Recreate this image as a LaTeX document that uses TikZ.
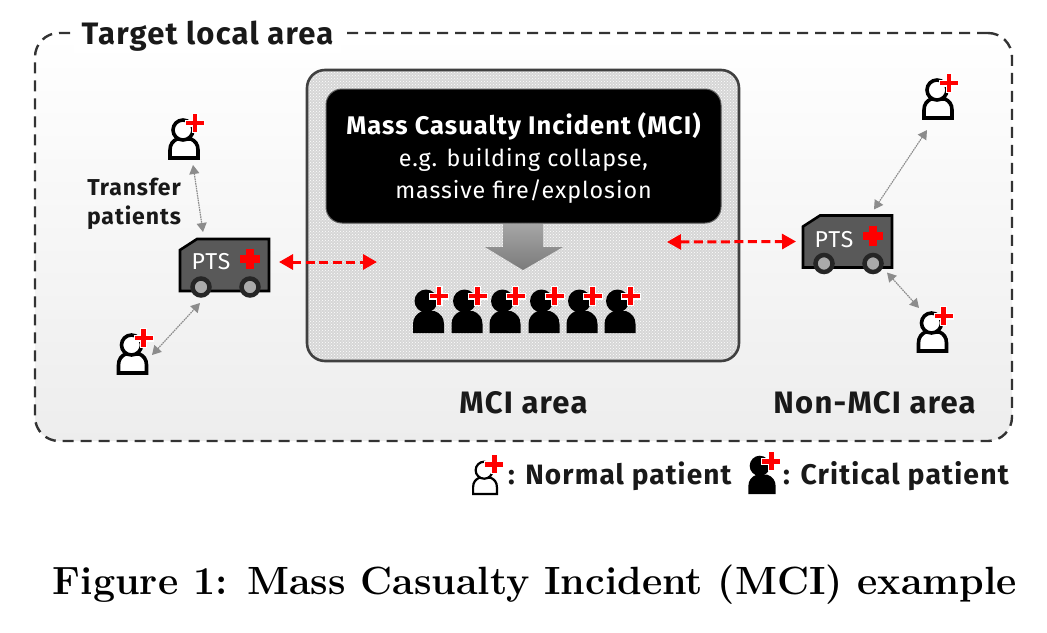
\documentclass[tikz,border=0pt]{standalone}
\usepackage{fontspec}
\newfontfamily\slidefont{Fira Sans}[LetterSpace=4]
\usetikzlibrary{arrows.meta,patterns,positioning}
\definecolor{vangray}{HTML}{595959}
\definecolor{wheelgray}{HTML}{AAAAAA}
\definecolor{mcigray}{HTML}{D6D6D6}
\definecolor{linkgray}{HTML}{8C8C8C}
\tikzset{
  areabox/.style={draw=black!80,line width=2.4pt,dash pattern=on 11pt off 7pt,rounded corners=24pt,
    minimum width=977pt,minimum height=408pt,top color=white,bottom color=black!7},
  mcibox/.style={draw=black!75,line width=2.6pt,rounded corners=18pt,minimum width=432pt,minimum height=291pt,
    preaction={fill=mcigray},pattern=crosshatch dots,pattern color=white},
  blackbox/.style={fill=black,draw=black!65,line width=1pt,rounded corners=16pt,minimum width=395pt,minimum height=134pt},
  blacktext/.style={text=white,align=center,inner sep=0pt,font=\slidefont\fontsize{23.3}{32}\selectfont},
  boldtext/.style={font=\slidefont\bfseries\fontsize{31}{34}\selectfont,text=black!90,inner sep=0pt},
  legendtext/.style={font=\slidefont\bfseries\fontsize{#1}{32}\selectfont,text=black!90,inner sep=0pt,anchor=west},
  smallbold/.style={font=\slidefont\bfseries\fontsize{23}{29}\selectfont,text=black!90,align=center,inner sep=0pt},
  iconbox/.style={minimum width=32pt,minimum height=46pt,inner sep=0pt,outer sep=0pt},
  vanbox/.style={minimum width=90pt,minimum height=52pt,inner sep=0pt,outer sep=0pt},
  vantext/.style={font=\slidefont\fontsize{23}{24}\selectfont,text=white,inner sep=0pt},
  redlink/.style={{Triangle[length=14pt,width=15pt]}-{Triangle[length=14pt,width=15pt]},red,line width=3pt,dash pattern=on 9pt off 4.5pt},
  graylink/.style={{Triangle[length=9pt,width=10pt]}-{Triangle[length=9pt,width=10pt]},linkgray,line width=1.2pt,dash pattern=on 1.6pt off .8pt},
  pics/redcross/.style={code={
    \draw[white,line width=7pt] (-10,0) -- (10,0) (0,-10) -- (0,10);
    \draw[red,line width=4.6pt] (-9,0) -- (9,0) (0,-9) -- (0,9);
  }},
  pics/normalpat/.style={code={
    \draw[black,line width=#1,fill=white] (-14,0) -- (-14,-8) .. controls (-14,-14) and (-11,-17) .. (-7,-19)
      -- (7,-19) .. controls (11,-17) and (14,-14) .. (14,-8) -- (14,0) -- cycle;
    \draw[black,line width=#1,fill=white] (-1,-28) circle (10);
    \pic at (11,-35) {redcross};
  }},
  pics/criticalpat/.style={code={
    \fill[black] (-15.5,0) -- (-15.5,-9) .. controls (-15.5,-15) and (-12,-20) .. (-6,-22)
      -- (6,-22) .. controls (12,-20) and (15.5,-15) .. (15.5,-9) -- (15.5,0) -- cycle;
    \fill[black] (-2.5,-32) circle (11.5);
    \pic at (10.5,-37) {redcross};
  }},
  pics/ptsvan/.style={code={
    \draw[black,line width=2.6pt,fill=vangray,line join=miter] (-45,26) -- (-45,-15) -- (-28,-26) -- (44,-26) -- (44,26) -- cycle;
    \draw[black!85,line width=4.5pt,fill=wheelgray] (-24,22) circle (8.5);
    \draw[black!85,line width=4.5pt,fill=wheelgray] (25,22) circle (8.5);
    \draw[red,line width=8pt] (15,-6) -- (35,-6) (25,-16) -- (25,4);
  }},
}
\begin{document}
\begin{tikzpicture}[x=1pt,y=-1pt]
  \useasboundingbox (0,0) rectangle (1047,632);
  % target area and its title
  \node[areabox] (targetArea) at (523.5,237) {};
  \node[boldtext,fill=white,inner xsep=8pt,inner ysep=2pt] (targetTitle) at (207.5,36) {Target local area};
  % MCI site
  \node[mcibox] (mciArea) at (523,215.5) {};
  \node[blackbox] (mciInfo) at (523.5,156) {};
  \node[blacktext] (mciInfoText) at (523.5,158) {{\bfseries\fontsize{25.5}{32}\selectfont Mass Casualty Incident (MCI)}\\e.g. building collapse,\\massive fire/explosion};
  \shade[top color=black!35,bottom color=black!52] (503,224) -- (543,224) -- (543,247) -- (563,247) -- (523,270) -- (485,247) -- (503,247) -- cycle;
  \pic at (428.5,333) {criticalpat};
  \pic at (467,333) {criticalpat};
  \pic at (505,333) {criticalpat};
  \pic at (544,333) {criticalpat};
  \pic at (582,333) {criticalpat};
  \pic at (620,333) {criticalpat};
  \coordinate (mciLeft) at (377,262);
  \coordinate (mciRight) at (667,242);
  % left side
  \node[iconbox] (patA) at (184,137) {};
  \node[iconbox] (patB) at (132.5,352) {};
  \pic at (184,158) {normalpat=3.6pt};
  \pic at (132.5,373) {normalpat=3.6pt};
  \node[vanbox] (ptsL) at (225,265) {};
  \pic at (225,265) {ptsvan};
  \node[vantext] (ptsLtext) at (211,262) {PTS};
  \node[smallbold] (transferText) at (134,204) {Transfer\\patients};
  % right side
  \node[iconbox] (patC) at (938,97) {};
  \node[iconbox] (patD) at (932.5,330) {};
  \pic at (938,118) {normalpat=3.6pt};
  \pic at (932.5,351) {normalpat=3.6pt};
  \node[vanbox] (ptsR) at (848,241.5) {};
  \pic at (848,241.5) {ptsvan};
  \node[vantext] (ptsRtext) at (834,239.5) {PTS};
  % links
  \draw[graylink] ([shift={(9,5)}]patA.south) -- ([shift={(-22,-7)}]ptsL.north);
  \draw[graylink] ([shift={(3.5,3)}]patB.east) -- ([shift={(-25,12)}]ptsL.south);
  \draw[graylink] ([shift={(-11,10)}]patC.south) -- ([shift={(26,-6)}]ptsR.north);
  \draw[graylink] ([shift={(-13.5,1)}]patD.north) -- ([shift={(39,5)}]ptsR.south);
  \draw[redlink] ([shift={(9,-3)}]ptsL.east) -- (mciLeft);
  \draw[redlink] (mciRight) -- ([shift={(-7,0)}]ptsR.west);
  % area names and legend
  \node[boldtext] (mciName) at (523.5,403) {MCI area};
  \node[boldtext] (nonMciName) at (874.5,403) {Non-MCI area};
  \pic[scale=.85] at (485,494) {normalpat=2.2pt};
  \node[legendtext=28] (normalText) at (508,476) {: Normal patient};
  \pic[scale=.88] at (762,494) {criticalpat};
  \node[legendtext=28.4] (criticalText) at (783,476) {: Critical patient};
  % caption
  \node[font=\bfseries\fontsize{39.4}{44}\selectfont,inner sep=0pt] (figCaption) at (535,585) {Figure 1: Mass Casualty Incident (MCI) example};
\end{tikzpicture}
\end{document}
